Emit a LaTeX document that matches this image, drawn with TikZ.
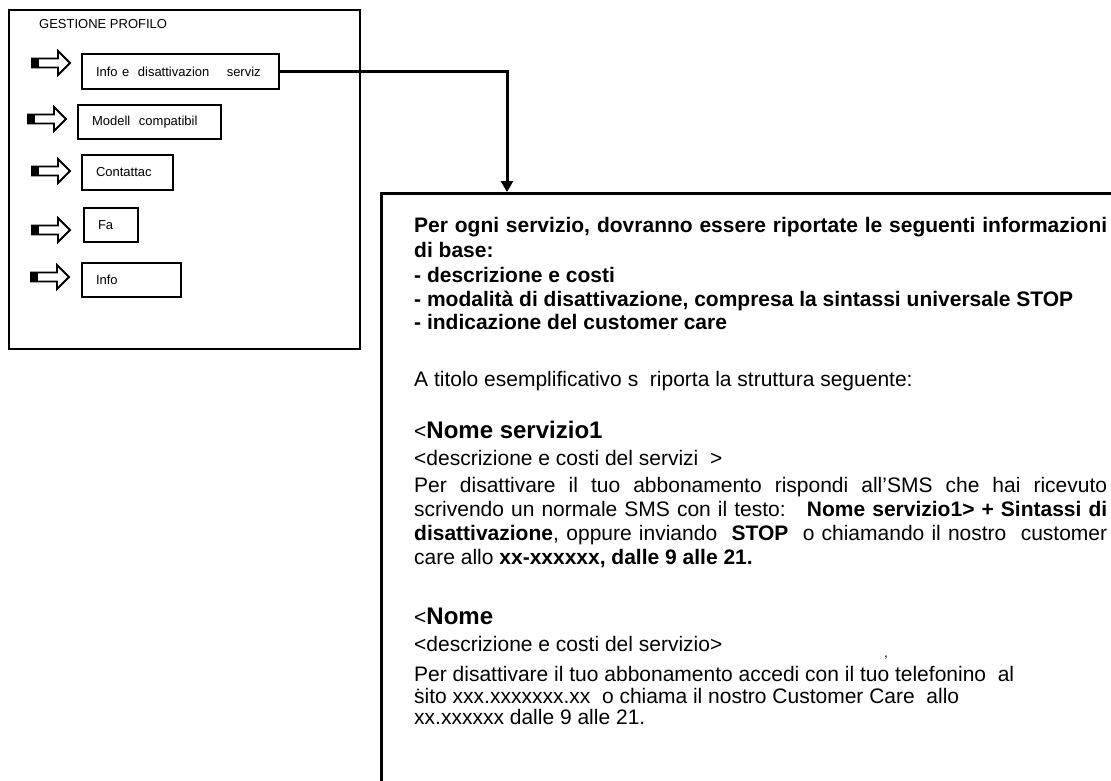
\documentclass[tikz,border=0pt]{standalone}
\usepackage{fontspec}
\setmainfont{Liberation Sans}
\usetikzlibrary{arrows.meta}
\tikzset{
  barrow/.pic={
    \draw[line width=1.8pt,fill=white,line join=miter] (0,-4.5) -- (26,-4.5) -- (26,-12) -- (38,0) -- (26,12) -- (26,4.5) -- (0,4.5) -- cycle;
    \fill (-1,-5.4) rectangle (7,5.4);
  }
}
\begin{document}
\begin{tikzpicture}[x=1pt,y=-1pt,
  frame/.style={draw,line width=2.4pt,anchor=north west,inner sep=0pt},
  mbox/.style={draw,line width=2pt,anchor=north west,minimum height=35pt,inner xsep=14pt,inner ysep=0pt,align=left,font=\fontsize{13}{15}\selectfont},
  body/.style={anchor=base west,inner sep=0pt,font=\fontsize{21}{25}\selectfont},
  conn/.style={line width=3pt,-{Triangle[width=12pt,length=11pt]}},
  strayglyph/.style={anchor=base,inner sep=0pt,font=\fontsize{14}{16}\selectfont}
]
\useasboundingbox (0,0) rectangle (1111,780);

% left panel
\node[frame,minimum width=351pt,minimum height=339pt] (outer) at (8,9) {};
\node[anchor=west,inner sep=0pt,font=\fontsize{13}{15}\selectfont] (title) at (39,24) {GESTIONE PROFILO};

\node[mbox,text width=169pt] (b1) at (81,53) {Info e\ \ disattivazion\ \ \ \ serviz};
\node[mbox,text width=115pt,minimum height=34pt] (b2) at (77,104) {Modell\ \ compatibil};
\node[mbox,text width=63pt] (b3) at (81,154) {Contattac};
\node[mbox,text width=26pt,minimum height=34pt] (b4) at (83,207) {Fa};
\node[mbox,text width=71pt,minimum height=34pt] (b5) at (81,262) {Info};

\pic at (32,63) {barrow};
\pic at (28,119) {barrow};
\pic at (32,171) {barrow};
\pic at (32,230) {barrow};
\pic at (31,277) {barrow};

% right panel
\node[frame,line width=2.7pt,minimum width=800pt,minimum height=700pt] (rbox) at (380,192) {};
\coordinate (tip) at (507,192);
\draw[conn] (b1.east) -| (tip);

\node[body] (p1) at (414,232) {\makebox[693pt][s]{\bfseries Per ogni servizio, dovranno essere riportate le seguenti informazioni}};
\node[body] (p2) at (414,257) {\bfseries di base:};
\node[body] (p3) at (414,282) {\bfseries - descrizione e costi};
\node[body] (p4) at (414,306) {\bfseries - modalità di disattivazione, compresa la sintassi universale STOP};
\node[body] (p5) at (414,329) {\bfseries - indicazione del customer care};
\node[body] (p6) at (414,386) {A titolo esemplificativo s\ \ riporta la struttura seguente:};
\node[body] (p7) at (414,438) {<{\fontsize{24}{28}\selectfont\bfseries Nome servizio1}};
\node[body] (p8) at (414,465) {<descrizione e costi del servizi\ \ >};
\node[body] (p9) at (414,492) {\makebox[693pt][s]{Per disattivare il tuo abbonamento rispondi all’SMS che hai ricevuto}};
\node[body] (p10) at (414,516) {\makebox[693pt][s]{scrivendo un normale SMS con il testo:\ \ \ \textbf{Nome servizio1> + Sintassi di}}};
\node[body] (p11) at (414,540) {\makebox[693pt][s]{\textbf{disattivazione}, oppure inviando\ \ \textbf{STOP}\ \ o chiamando il nostro\ \ customer}};
\node[body] (p12) at (414,564) {care allo \textbf{xx-xxxxxx, dalle 9 alle 21.}};
\node[body] (p13) at (414,624) {<{\fontsize{24}{28}\selectfont\bfseries Nome}};
\node[body] (p14) at (414,651) {<descrizione e costi del servizio>};
\node[strayglyph] (cm) at (886,657) {,};
\node[body] (p15) at (414,681) {Per disattivare il tuo abbonamento accedi con il tuo telefonino\ \ al};
\fill (418,689.5) circle (1.2pt);
\node[body] (p16) at (414,703) {sito xxx.xxxxxxx.xx\ \ o chiama il nostro Customer Care\ \ allo};
\node[body] (p17) at (414,724) {xx.xxxxxx dalle 9 alle 21.};
\end{tikzpicture}
\end{document}
